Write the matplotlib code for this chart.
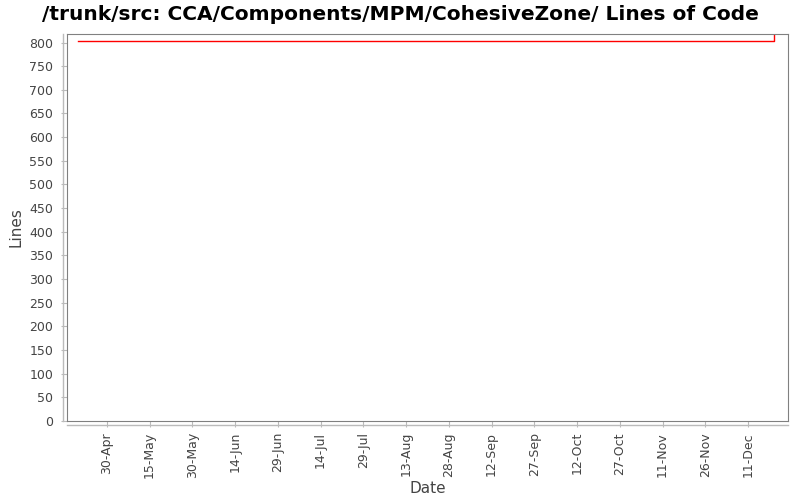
import matplotlib
matplotlib.use('Agg')
import matplotlib.pyplot as plt
import matplotlib.dates as mdates
import numpy as np
import datetime as dt

dates = [dt.date(2007, 4, 20), dt.date(2007, 12, 20), dt.date(2007, 12, 20)]
lines = [804, 804, 830]
tick_dates = [dt.date(2007, 4, 30) + dt.timedelta(days=15 * i) for i in range(16)]

fig = plt.figure(figsize=(8, 5), dpi=100)
ax = fig.add_axes([67 / 800, 1 - 421 / 500, (788 - 67) / 800, (421 - 34) / 500])

ax.step(dates, lines, where='post', color='red', lw=1)

ax.set_xlim(dt.date(2007, 4, 16), dt.date(2007, 12, 25) + dt.timedelta(hours=10))
ax.set_ylim(0, 818)
ax.set_yticks(np.arange(0, 801, 50))
ax.set_xticks(tick_dates)
ax.xaxis.set_major_formatter(mdates.DateFormatter('%-d-%b'))
plt.setp(ax.get_xticklabels(), rotation=90)

for s in ax.spines.values():
    s.set_color('#808080')
ax.tick_params(colors='#bbbbbb', labelcolor='#444444', labelsize=9, length=4)

# offset axis lines like the original
fig.add_artist(plt.Line2D([63 / 800, 63 / 800], [1 - 421 / 500, 1 - 34 / 500], color='#bbbbbb', lw=1))
fig.add_artist(plt.Line2D([67 / 800, 788 / 800], [1 - 425 / 500, 1 - 425 / 500], color='#bbbbbb', lw=1))
ax.tick_params(axis='y', pad=6)
ax.tick_params(axis='x', pad=4)

ax.set_xlabel('Date', fontsize=11, color='#444444', labelpad=2)
ax.set_ylabel('Lines', fontsize=11, color='#444444', labelpad=4)
fig.suptitle('/trunk/src: CCA/Components/MPM/CohesiveZone/ Lines of Code',
             fontsize=14.5, fontweight='bold', x=0.5, y=0.99)

fig.savefig('out.png', dpi=100)
